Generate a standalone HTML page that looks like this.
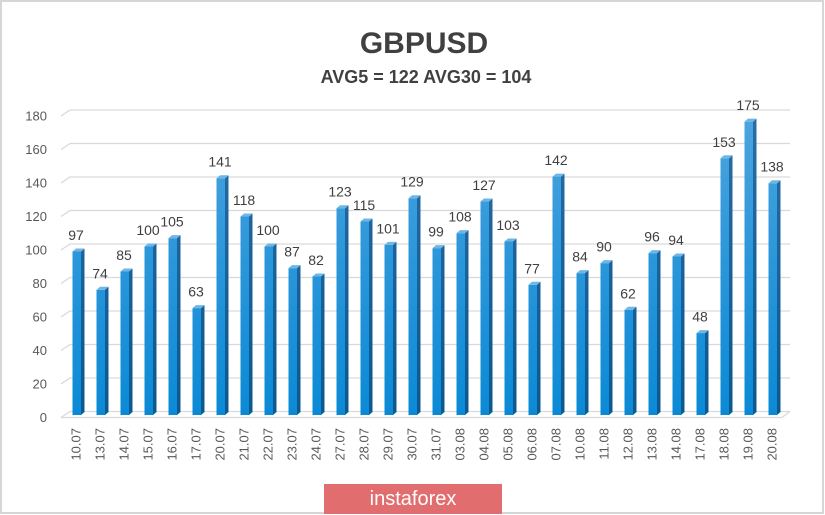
<!DOCTYPE html>
<html>
<head>
<meta charset="utf-8">
<style>
html,body{margin:0;padding:0;background:#fff;}
body{width:825px;height:515px;overflow:hidden;position:relative;font-family:"Liberation Sans",sans-serif;}
svg{position:absolute;left:0;top:0;}
</style>
</head>
<body>
<svg width="825" height="515" viewBox="0 0 825 515" xmlns="http://www.w3.org/2000/svg">
<defs>
<linearGradient id="gf" gradientUnits="userSpaceOnUse" x1="0" y1="110" x2="0" y2="415">
<stop offset="0" stop-color="#4ea5de"/>
<stop offset="0.5" stop-color="#2a96da"/>
<stop offset="1" stop-color="#0a8ad6"/>
</linearGradient>
<linearGradient id="gs" gradientUnits="userSpaceOnUse" x1="0" y1="110" x2="0" y2="415">
<stop offset="0" stop-color="#2a6ea6"/>
<stop offset="1" stop-color="#0b5790"/>
</linearGradient>
</defs>
<rect x="1" y="1" width="822" height="512" fill="#fff" stroke="#d6d6d6" stroke-width="2"/>
<text x="424" y="53" text-anchor="middle" font-family="Liberation Sans, sans-serif" font-weight="bold" font-size="30" fill="#404040">GBPUSD</text>
<text x="426" y="83" text-anchor="middle" font-family="Liberation Sans, sans-serif" font-weight="bold" font-size="18" fill="#404040">AVG5 = 122 AVG30 = 104</text>
<g id="grid" stroke="#d9d9d9" stroke-width="1.3" fill="none"></g>
<g id="ylab" font-family="Liberation Sans, sans-serif" font-size="13" fill="#595959" text-anchor="end"></g>
<g id="bars"></g>
<g id="vlab" font-family="Liberation Sans, sans-serif" font-size="14" fill="#404040" text-anchor="middle"></g>
<g id="xlab" font-family="Liberation Sans, sans-serif" font-size="13" fill="#595959" text-anchor="end"></g>
<rect x="324" y="484" width="178" height="30" fill="#e26d6f"/>
<text x="413" y="505" text-anchor="middle" font-family="Liberation Sans, sans-serif" font-size="20" fill="#ffffff">instaforex</text>
</svg>
<script>
(function(){
var NS="http://www.w3.org/2000/svg";
function el(t,a,p,txt){var e=document.createElementNS(NS,t);for(var k in a)e.setAttribute(k,a[k]);if(txt!==undefined)e.textContent=txt;p.appendChild(e);return e;}
var grid=document.getElementById('grid'),ylab=document.getElementById('ylab'),bars=document.getElementById('bars'),vlab=document.getElementById('vlab'),xlab=document.getElementById('xlab');
for(var v=0;v<=180;v+=20){
  var y=411.5-v*1.675;
  el('polyline',{points:"61,"+(y+6)+" 70,"+y+" 790,"+y},grid);
  el('text',{x:47,y:(y+10.7).toFixed(1)},ylab,String(v));
}
el('polyline',{points:"61,417.5 782,417.5 790,411.5"},grid);
var vals=[97,74,85,100,105,63,141,118,100,87,82,123,115,101,129,99,108,127,103,77,142,84,90,62,96,94,48,153,175,138];
var dates=["10.07","13.07","14.07","15.07","16.07","17.07","20.07","21.07","22.07","23.07","24.07","27.07","28.07","29.07","30.07","31.07","03.08","04.08","05.08","06.08","07.08","10.08","11.08","12.08","13.08","14.08","17.08","18.08","19.08","20.08"];
for(var i=0;i<vals.length;i++){
  var L=72.5+24*i, t=413-vals[i]*1.665, fw=8.5, sw=3.5, d=3;
  el('polygon',{points:(L+fw)+","+t+" "+(L+fw+sw)+","+(t-d)+" "+(L+fw+sw)+",412 "+(L+fw)+",415",fill:"url(#gs)"},bars);
  el('rect',{x:L,y:t,width:fw,height:(415-t),fill:"url(#gf)"},bars);
  el('polygon',{points:L+","+t+" "+(L+fw)+","+t+" "+(L+fw+sw)+","+(t-d)+" "+(L+sw)+","+(t-d),fill:"#6db6e6"},bars);
  el('text',{x:(L+3.5).toFixed(1),y:(t-11.5).toFixed(1)},vlab,String(vals[i]));
  var x=L+8;
  el('text',{x:x,y:428,transform:"rotate(-90 "+x+" 428)"},xlab,dates[i]);
}
})();
</script>
</body>
</html>
